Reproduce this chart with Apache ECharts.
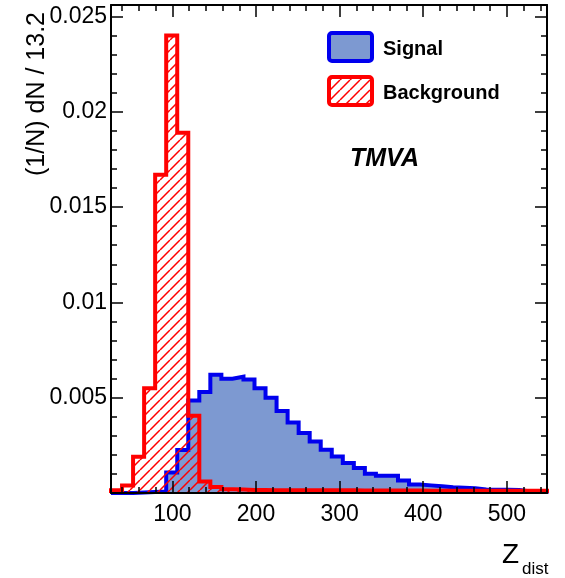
<!DOCTYPE html>
<html>
<head>
<meta charset="utf-8">
<script src="https://cdn.jsdelivr.net/npm/echarts@6/dist/echarts.min.js"></script>
<style>
  html, body { margin: 0; padding: 0; background: #fff; }
  #chart { width: 565px; height: 578px; }
</style>
</head>
<body>
<div id="chart"></div>
<script>
// Histogram binning of Z_dist: 40 bins of width 13.2 starting at 26.6
const binLow = 26.6;
const binWidth = 13.2;
const axisMin = 26.6;
const axisMax = 548;

// Normalised bin contents (1/N) dN / 13.2
const signal = [
  0, 0, 0.00003, 0.00005, 0.00008, 0.00108, 0.00225, 0.00485, 0.0053, 0.0062,
  0.006, 0.0061, 0.00595, 0.0055, 0.005, 0.0043, 0.0037, 0.00315, 0.0027, 0.00227,
  0.00192, 0.00157, 0.00131, 0.00101, 0.0009, 0.0009, 0.00066, 0.00045, 0.0004, 0.00035,
  0.0003, 0.00028, 0.00025, 0.00018, 0.00017, 0.00017, 0.00016, 0.00008, 0.00008, 0.00007
];
const background = [
  0.00015, 0.0004, 0.0019, 0.0055, 0.0167, 0.024, 0.0189, 0.00405, 0.0006, 0.00032,
  0.0002, 0.00018, 0.00016, 0.00016, 0.00015, 0.00015, 0.00015, 0.00014, 0.00014, 0.00014,
  0.00014, 0.00014, 0.00013, 0.00013, 0.00013, 0.00013, 0.00013, 0.00013, 0.00012, 0.00012,
  0.00012, 0.00012, 0.00012, 0.00012, 0.00012, 0.00012, 0.00012, 0.00012, 0.00012, 0.00012
];

const xTickValues = [100, 200, 300, 400, 500];
const yTickValues = [0.005, 0.01, 0.015, 0.02, 0.025];

const seriesNames = ['Signal', 'Background'];
const yTitle = '(1/N) dN / 13.2';
const xTitleMain = 'Z';
const xTitleSub = 'dist';
const tag = 'TMVA';

const FONT = '"Liberation Sans", Arial, Helvetica, sans-serif';
const BLUE_LINE = '#0000ee';
const BLUE_FILL = '#7d99d1';
const RED = '#ff0000';

// Step outline points: start on the baseline, one point per left bin edge, close on the baseline
function stepPoints(values) {
  const pts = [[binLow, 0]];
  values.forEach((v, i) => pts.push([binLow + i * binWidth, v]));
  pts.push([binLow + values.length * binWidth, 0]);
  return pts;
}

// Diagonal hatch tile for the background fill
function hatchTile(color) {
  const c = document.createElement('canvas');
  c.width = 10; c.height = 10;
  const g = c.getContext('2d');
  g.strokeStyle = color;
  g.lineWidth = 1.5;
  g.beginPath();
  for (const dx of [-10, 0, 10]) { g.moveTo(dx, 10); g.lineTo(dx + 10, 0); }
  g.stroke();
  return c;
}
const hatch = { image: hatchTile(RED), repeat: 'repeat' };

const tickStyle = { color: '#000', width: 1.5 };

function xAxisDef(position, withLabels) {
  return {
    type: 'value', position, min: axisMin, max: axisMax, splitNumber: 5, z: 10,
    axisLine: { show: true, onZero: false, lineStyle: { color: '#000', width: 2 } },
    axisTick: { show: true, inside: true, length: 12, customValues: xTickValues, lineStyle: tickStyle },
    minorTick: { show: true, splitNumber: 5, length: 6, lineStyle: tickStyle },
    axisLabel: withLabels ? {
      show: true, customValues: xTickValues, margin: 10,
      color: '#000', fontSize: 23, fontFamily: FONT
    } : { show: false },
    splitLine: { show: false }
  };
}
function yAxisDef(position, withLabels) {
  return {
    type: 'value', position, min: 0, max: 0.0256, interval: 0.005, z: 10,
    axisLine: { show: true, onZero: false, lineStyle: { color: '#000', width: 2 } },
    axisTick: { show: true, inside: true, length: 12, customValues: yTickValues, lineStyle: tickStyle },
    minorTick: { show: true, splitNumber: 5, length: 6, lineStyle: tickStyle },
    axisLabel: withLabels ? {
      show: true, customValues: yTickValues, margin: 4,
      color: '#000', fontSize: 23, fontFamily: FONT
    } : { show: false },
    splitLine: { show: false }
  };
}

const chart = echarts.init(document.getElementById('chart'), null, { renderer: 'canvas' });
chart.setOption({
  animation: false,
  backgroundColor: '#fff',
  grid: { left: 111, right: 18, top: 5, bottom: 85, containLabel: false, outerBoundsMode: 'none' },
  xAxis: [xAxisDef('bottom', true), xAxisDef('top', false)],
  yAxis: [yAxisDef('left', true), yAxisDef('right', false)],
  series: [
    {
      name: seriesNames[0], type: 'line', step: 'end', symbol: 'none',
      data: stepPoints(signal),
      lineStyle: { color: BLUE_LINE, width: 4, join: 'miter', cap: 'butt' },
      areaStyle: { color: BLUE_FILL, opacity: 1 },
      z: 2
    },
    {
      name: seriesNames[1], type: 'line', step: 'end', symbol: 'none',
      data: stepPoints(background),
      lineStyle: { color: RED, width: 4, join: 'miter', cap: 'butt' },
      areaStyle: { color: hatch, opacity: 1 },
      z: 3
    }
  ],
  graphic: [
    { type: 'rect', shape: { x: 329, y: 33, width: 43, height: 28, r: 3 },
      style: { fill: BLUE_FILL, stroke: BLUE_LINE, lineWidth: 4 } },
    { type: 'rect', shape: { x: 329, y: 77, width: 43, height: 28, r: 3 },
      style: { fill: hatch, stroke: RED, lineWidth: 4 } },
    { type: 'text', x: 383, y: 49,
      style: { text: seriesNames[0], font: 'bold 20px ' + FONT, fill: '#000', verticalAlign: 'middle' } },
    { type: 'text', x: 383, y: 93,
      style: { text: seriesNames[1], font: 'bold 20px ' + FONT, fill: '#000', verticalAlign: 'middle' } },
    { type: 'text', x: 350, y: 159,
      style: { text: tag, font: 'italic bold 25px ' + FONT, fill: '#000', verticalAlign: 'middle' } },
    { type: 'text', x: 37, y: 94, rotation: Math.PI / 2,
      style: { text: yTitle, font: '25px ' + FONT, fill: '#000', align: 'center', verticalAlign: 'middle' } },
    { type: 'text', x: 502, y: 555,
      style: { text: xTitleMain, font: '28px ' + FONT, fill: '#000', verticalAlign: 'middle' } },
    { type: 'text', x: 522, y: 569,
      style: { text: xTitleSub, font: '17px ' + FONT, fill: '#000', verticalAlign: 'middle' } }
  ]
});
</script>
</body>
</html>
